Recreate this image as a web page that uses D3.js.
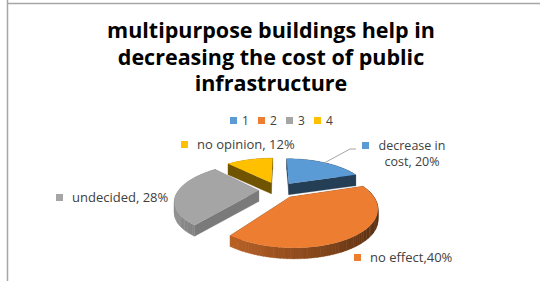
<!DOCTYPE html>
<html>
<head>
<meta charset="utf-8">
<script src="https://cdn.jsdelivr.net/npm/d3@7"></script>
<style>
  body { margin: 0; background: #fff; }
  svg { display: block; }
</style>
</head>
<body>
<div id="chart"></div>
<script>
// chart data
const titleLines = ["multipurpose buildings help in", "decreasing the cost of public", "infrastructure"];
const legendKeys = ["1", "2", "3", "4"];
const sliceNames = ["decrease in cost", "no effect", "undecided", "no opinion"];
const sliceValues = [20, 40, 28, 12];
const labelLines = [["decrease in", "cost, 20%"], ["no effect,40%"], ["undecided, 28%"], ["no opinion, 12%"]];
const colors = ["#5b9bd5", "#ed7d31", "#a5a5a5", "#ffc000"];

const width = 540, height = 281;

const svg = d3.select("#chart").append("svg")
  .attr("width", width)
  .attr("height", height);

// frame lines
svg.append("line").attr("x1", 7.5).attr("x2", 7.5).attr("y1", 0).attr("y2", height)
  .attr("stroke", "#a6a6a6").attr("stroke-width", 1.5);
svg.append("line").attr("x1", 7).attr("x2", width).attr("y1", 3.5).attr("y2", 3.5)
  .attr("stroke", "#a6a6a6").attr("stroke-width", 1.5);

// title
svg.append("g").selectAll("text")
  .data(titleLines)
  .join("text")
  .attr("x", 271)
  .attr("y", (d, i) => 38 + i * 26.5)
  .attr("text-anchor", "middle")
  .attr("font-family", "'Open Sans', sans-serif")
  .attr("font-weight", "bold")
  .attr("font-size", 21.5)
  .attr("fill", "#000")
  .text(d => d);

// legend
const legend = svg.append("g").attr("font-family", "'Open Sans', sans-serif").attr("font-size", 12).attr("fill", "#404040");
const legendX = d3.scalePoint().domain(legendKeys).range([230, 314]);
legendKeys.forEach((k, i) => {
  legend.append("rect").attr("x", legendX(k)).attr("y", 117).attr("width", 7).attr("height", 7).attr("fill", colors[i]);
  legend.append("text").attr("x", legendX(k) + 12).attr("y", 124.5).text(k);
});

// 3D pie, simple perspective projection
const cx = 278, cy = 190, KX = 80, KY = 34, PERSP = 0.25, DEPTH = 11, EXPLODE = 0.24;
const proj = (X, Y, z) => {
  const d = 1 - PERSP * Y;
  return [cx + KX * X / d, cy + KY * Y / d + z];
};

const arcs = d3.pie().sort(null).value(d => d)(sliceValues);
const wallShade = th => 0.62 - 0.28 * Math.sin(th);
const cutShade = [0.4, 0.5, 0.74, 0.44];
const shade = (c, f) => { const r = d3.rgb(c); return d3.rgb(r.r * f, r.g * f, r.b * f).toString(); };

const slices = arcs.map((a, i) => {
  const m = (a.startAngle + a.endAngle) / 2;
  return { i, a, ox: EXPLODE * Math.sin(m), oy: -EXPLODE * Math.cos(m), m };
}).sort((p, q) => p.oy - q.oy);

const pieG = svg.append("g");
const line = d3.line();

slices.forEach(s => {
  const { a, ox, oy, i } = s;
  const rim = (th, z) => proj(ox + Math.sin(th), oy - Math.cos(th), z);
  const faces = [];
  // outer wall
  const n = Math.max(4, Math.ceil((a.endAngle - a.startAngle) / 0.03));
  const step = (a.endAngle - a.startAngle) / n;
  for (let k = 0; k < n; k++) {
    const t0 = a.startAngle + k * step, t1 = t0 + step;
    faces.push({
      key: oy - Math.cos((t0 + t1) / 2),
      pts: [rim(t0, 0), rim(t1 + 0.004, 0), rim(t1 + 0.004, DEPTH), rim(t0, DEPTH)],
      fill: shade(colors[i], wallShade((t0 + t1) / 2))
    });
  }
  // cut faces
  [a.startAngle, a.endAngle].forEach(th => {
    faces.push({
      key: oy - 0.5 * Math.cos(th),
      pts: [proj(ox, oy, 0), rim(th, 0), rim(th, DEPTH), proj(ox, oy, DEPTH)],
      fill: shade(colors[i], cutShade[i])
    });
  });
  faces.sort((p, q) => p.key - q.key);
  faces.forEach(f => {
    pieG.append("path").attr("d", line(f.pts) + "Z").attr("fill", f.fill).attr("stroke", f.fill).attr("stroke-width", 0.3);
  });
  // top face
  const top = [proj(ox, oy, 0)];
  const nt = Math.ceil((a.endAngle - a.startAngle) / 0.02);
  for (let k = 0; k <= nt; k++) top.push(rim(a.startAngle + (a.endAngle - a.startAngle) * k / nt, 0));
  pieG.append("path").attr("d", line(top) + "Z").attr("fill", colors[i]);
});

// data labels
const labelPos = [
  { sx: 362, sy: 142, tx: 412, ty: 150, anchor: "middle" },
  { sx: 354, sy: 254, tx: 370, ty: 262, anchor: "start" },
  { sx: 56, sy: 194, tx: 72, ty: 202, anchor: "start" },
  { sx: 181, sy: 141, tx: 197, ty: 149, anchor: "start" }
];
const labels = svg.append("g").attr("font-family", "'Open Sans', sans-serif").attr("font-size", 13).attr("fill", "#404040");
labelLines.forEach((lines, i) => {
  const p = labelPos[i];
  labels.append("rect").attr("x", p.sx).attr("y", p.sy).attr("width", 7).attr("height", 7).attr("fill", colors[i]);
  const t = labels.append("text").attr("x", p.tx).attr("y", p.ty).attr("text-anchor", p.anchor)
    .attr("font-size", lines.length > 1 ? 12.5 : null);
  lines.forEach((str, j) => {
    t.append("tspan").attr("x", p.tx).attr("dy", j === 0 ? 0 : 15.5).text(str);
  });
});

// leader line for the first slice
const s0 = slices.find(s => s.i === 0);
const tip = proj(s0.ox + 0.97 * Math.sin(s0.m), s0.oy - 0.97 * Math.cos(s0.m), 0);
svg.append("path")
  .attr("d", line([[356, 149], [350, 149], tip]))
  .attr("fill", "none").attr("stroke", "#a6a6a6").attr("stroke-width", 1);
</script>
</body>
</html>
